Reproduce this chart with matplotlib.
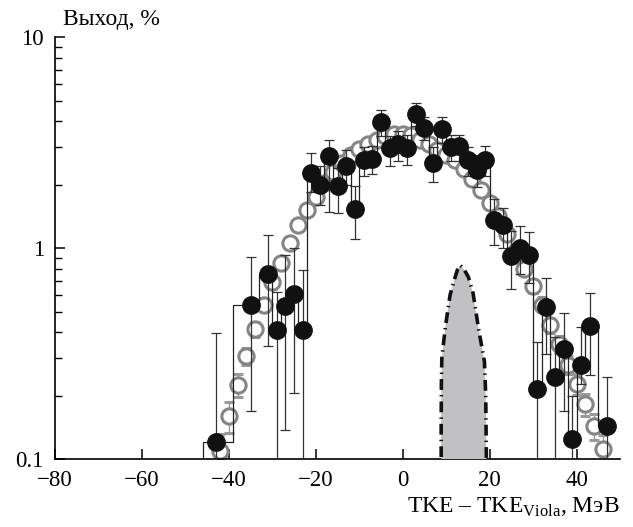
import matplotlib
matplotlib.use('Agg')
import matplotlib.pyplot as plt
import numpy as np

plt.rcParams['font.family'] = ['Liberation Serif', 'DejaVu Serif']
plt.rcParams['mathtext.fontset'] = 'custom'
plt.rcParams['mathtext.rm'] = 'Liberation Serif'
plt.rcParams['font.size'] = 16.5

# эксперимент (чёрные точки), выход в %
tke_exp = [-43, -35, -31, -29, -27, -25, -23, -21, -19, -17, -15, -13, -11, -9, -7, -5,
           -3, -1, 1, 3, 5, 7, 9, 11, 13, 15, 17, 19, 21, 23, 25, 27, 29, 31, 33, 35,
           37, 39, 41, 43, 47]
yield_exp = [0.12, 0.54, 0.75, 0.41, 0.53, 0.605, 0.41, 2.28, 1.99, 2.74, 1.97, 2.44, 1.53,
             2.61, 2.65, 3.94, 2.97, 3.13, 2.97, 4.32, 3.72, 2.52, 3.65, 3.02, 3.03, 2.61,
             2.34, 2.61, 1.36, 1.28, 0.92, 1.0, 0.93, 0.214, 0.523, 0.245, 0.332, 0.124,
             0.279, 0.427, 0.144]
exp_lo = [0.01, 0.169, 0.343, 0.01, 0.137, 0.205, 0.01, 1.85, 1.6, 1.49, 1.47, 2.0, 1.10,
          2.2, 2.25, 3.4, 2.45, 2.6, 2.47, 3.8, 3.25, 2.06, 3.15, 2.6, 2.6, 2.2, 1.95, 2.2,
          1.03, 1.0, 0.637, 0.75, 0.68, 0.01, 0.315, 0.01, 0.168, 0.01, 0.228, 0.25, 0.01]
exp_hi = [0.395, 0.91, 1.15, 0.62, 0.93, 1.0, 0.79, 2.81, 2.45, 3.27, 2.4, 2.93, 1.97, 3.0,
          3.05, 4.51, 3.4, 3.6, 3.45, 4.85, 4.2, 3.0, 4.16, 3.45, 3.45, 3.0, 2.75, 3.03,
          1.7, 1.55, 1.2, 1.27, 1.19, 0.357, 0.723, 0.38, 0.494, 0.2, 0.424, 0.61, 0.245]

# начало гистограммы (пустой бин слева)
step_start_x = -49
step_start_y = 0.01

# расчёт (серые кружки)
tke_calc = [-42, -40, -38, -36, -34, -32, -30, -28, -26, -24, -22, -20, -18, -16, -14, -12,
            -10, -8, -6, -4, -2, 0, 2, 4, 6, 8, 10, 12, 14, 16, 18, 20, 22, 24, 26, 28, 30,
            32, 34, 36, 38, 40, 42, 44, 46]
yield_calc = [0.109, 0.160, 0.225, 0.308, 0.412, 0.539, 0.688, 0.852, 1.06, 1.28, 1.51, 1.75,
              2.03, 2.30, 2.54, 2.76, 2.94, 3.13, 3.27, 3.40, 3.48, 3.49, 3.42, 3.27, 3.13,
              2.92, 2.75, 2.61, 2.36, 2.12, 1.88, 1.64, 1.42, 1.17, 0.97, 0.80, 0.66, 0.54,
              0.43, 0.35, 0.28, 0.227, 0.182, 0.143, 0.112]
calc_rel_err = [0.2, 0.17, 0.13, 0.09, 0.08, 0.07, 0.07, 0.06, 0.06, 0.06, 0.05, 0.05, 0.05,
                0.05, 0.05, 0.05, 0.05, 0.05, 0.05, 0.05, 0.05, 0.05, 0.05, 0.05, 0.05, 0.05,
                0.05, 0.05, 0.05, 0.05, 0.05, 0.05, 0.06, 0.06, 0.06, 0.07, 0.07, 0.08, 0.08,
                0.09, 0.1, 0.11, 0.12, 0.14, 0.16]

# контур пика (заливка с штрих-пунктиром)
peak_x = [8.85, 8.85, 8.9, 9.0, 9.8, 10.9, 11.9, 12.6, 13.2, 14.0, 15.1, 16.2, 17.4, 18.8,
          19.1, 19.3]
peak_y = [0.08, 0.15, 0.23, 0.30, 0.42, 0.60, 0.71, 0.79, 0.83, 0.80, 0.73, 0.61, 0.42, 0.29,
          0.20, 0.08]

fig = plt.figure(figsize=(6.33, 5.27), dpi=100)
ax = fig.add_axes([0.0869, 0.129, 0.8926, 0.8006])

yc = np.array(yield_calc)
ce = yc * np.array(calc_rel_err)
ax.errorbar(tke_calc, yc, yerr=[ce, ce], fmt='o', ms=11, mfc='white', mec='#858585', mew=2.2,
            ecolor='#9a9a9a', elinewidth=1, capsize=3.5, capthick=1, zorder=2)

ye = np.array(yield_exp)
ax.errorbar(tke_exp, ye, yerr=[ye - np.array(exp_lo), np.array(exp_hi) - ye], fmt='none',
            ecolor='#333333', elinewidth=0.9, capsize=3.5, capthick=0.9, zorder=3)
ax.step([step_start_x] + tke_exp, [step_start_y] + yield_exp, where='mid', color='#222222',
        lw=0.9, zorder=3)
ax.plot(tke_exp, ye, 'o', ms=12.5, color='#111111', zorder=4)

ax.fill(peak_x, peak_y, color='#c1c1c4', lw=0, zorder=5)
ax.plot(peak_x, peak_y, color='#111111', lw=2.6, linestyle=(0, (3.0, 1.4, 0.4, 1.4)),
        zorder=6)

ax.set_yscale('log')
ax.set_xlim(-80, 50)
ax.set_ylim(0.1, 10)
ax.set_xticks([-80, -60, -40, -20, 0, 20, 40])
ax.set_yticks([0.1, 1, 10])
ax.set_yticklabels(['0.1', '1', '10'])
ax.tick_params(direction='in', length=7, width=1.1, pad=8)
ax.tick_params(axis='y', which='minor', direction='in', length=5, width=1)
ax.tick_params(axis='x', which='minor', length=0)
for s in ['top', 'right']:
    ax.spines[s].set_visible(False)
for s in ['left', 'bottom']:
    ax.spines[s].set_linewidth(1.2)

fig.text(0.0995, 0.9526, 'Выход, %', ha='left', va='baseline', fontsize=17)
fig.text(0.9795, 0.0266, r'TKE – TKE$_\mathrm{Viola}$, МэВ', ha='right', va='baseline',
         fontsize=17)

fig.savefig('out.png', dpi=100)
